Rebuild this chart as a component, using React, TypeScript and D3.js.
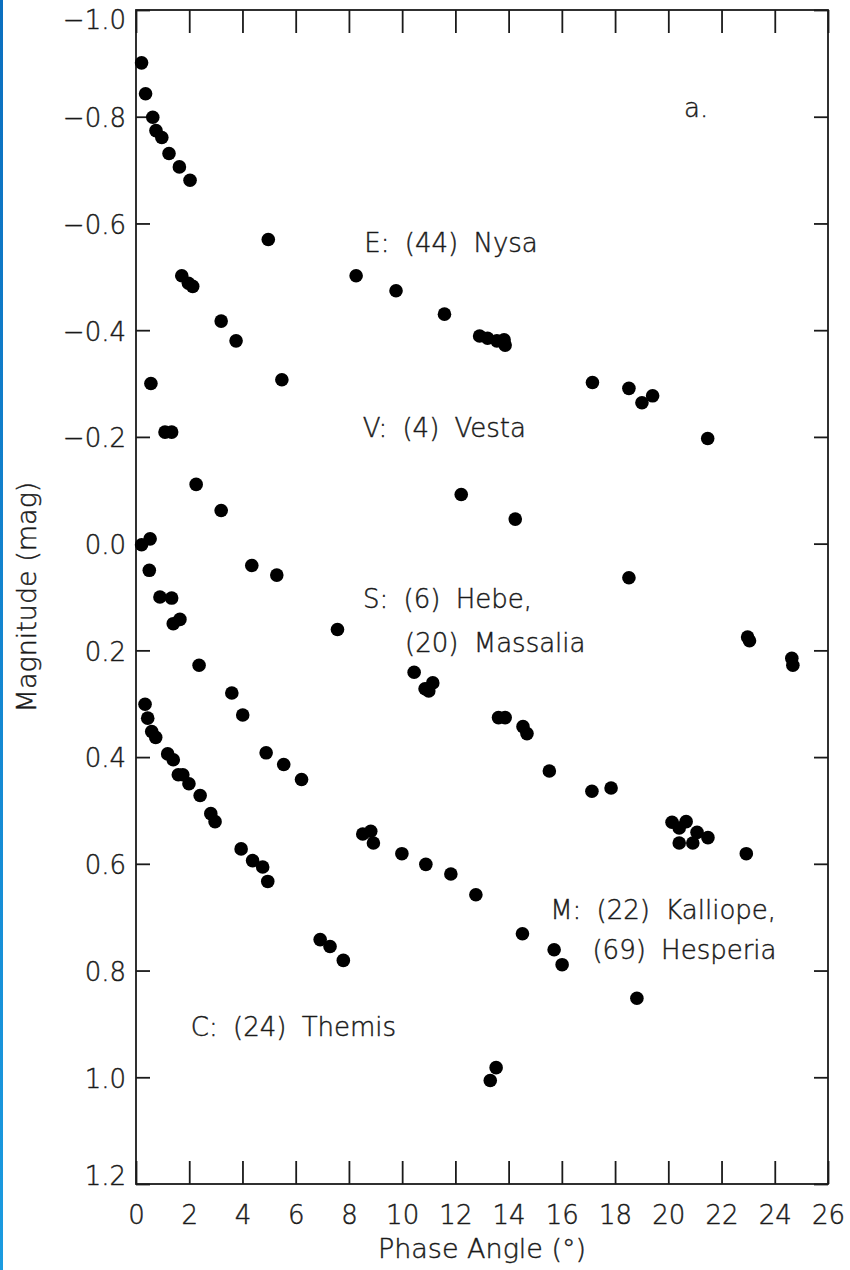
import React, { useRef, useEffect } from "react";
import * as d3 from "d3";

// phase angle (deg) and reduced magnitude
const nysaPhase = [0.21, 0.36, 0.63, 0.75, 0.97, 1.24, 1.63, 2.03, 4.97, 8.27, 9.77, 11.59, 12.91, 13.21, 13.56, 13.83, 13.87, 17.15, 18.52, 19.01, 19.41, 21.48];
const nysaMag = [-0.901, -0.843, -0.799, -0.774, -0.761, -0.731, -0.706, -0.681, -0.57, -0.502, -0.474, -0.43, -0.389, -0.385, -0.38, -0.382, -0.372, -0.302, -0.291, -0.264, -0.277, -0.197];

const vestaPhase = [1.72, 1.97, 2.13, 3.2, 3.76, 5.48, 12.22, 14.25, 18.52, 22.98, 23.05, 24.64, 24.68];
const vestaMag = [-0.502, -0.488, -0.482, -0.417, -0.38, -0.307, -0.092, -0.046, 0.064, 0.175, 0.182, 0.215, 0.228];

const hebePhase = [0.56, 1.09, 1.34, 2.26, 3.2, 4.35, 5.29, 7.57, 10.45, 10.86, 11.0, 11.15, 13.62, 13.87, 14.54, 14.69, 15.53, 17.13, 17.85, 20.14, 20.41, 20.67, 20.41, 20.92, 21.08, 21.49, 22.93];
const hebeMag = [-0.3, -0.209, -0.209, -0.111, -0.062, 0.041, 0.059, 0.161, 0.241, 0.272, 0.276, 0.261, 0.326, 0.326, 0.343, 0.356, 0.426, 0.464, 0.458, 0.522, 0.533, 0.521, 0.561, 0.561, 0.541, 0.551, 0.581];

const kalliopePhase = [0.21, 0.53, 0.5, 0.9, 1.34, 1.4, 1.65, 2.37, 3.6, 4.01, 4.89, 5.55, 6.22, 8.52, 8.82, 8.92, 9.99, 10.89, 11.83, 12.77, 14.52, 15.71, 16.01, 18.82];
const kalliopeMag = [0.002, -0.009, 0.05, 0.1, 0.102, 0.15, 0.142, 0.228, 0.28, 0.321, 0.392, 0.414, 0.442, 0.544, 0.539, 0.561, 0.581, 0.601, 0.619, 0.658, 0.731, 0.761, 0.789, 0.852];

const themisPhase = [0.34, 0.44, 0.59, 0.74, 1.19, 1.4, 1.59, 1.76, 1.99, 2.41, 2.81, 2.97, 3.95, 4.38, 4.76, 4.95, 6.92, 7.29, 7.79, 13.31, 13.53];
const themisMag = [0.301, 0.327, 0.352, 0.363, 0.394, 0.405, 0.433, 0.433, 0.45, 0.472, 0.506, 0.521, 0.572, 0.594, 0.606, 0.633, 0.742, 0.755, 0.781, 1.006, 0.982];

const xTicks = [0, 2, 4, 6, 8, 10, 12, 14, 16, 18, 20, 22, 24, 26];
const yTicks = [-1.0, -0.8, -0.6, -0.4, -0.2, 0.0, 0.2, 0.4, 0.6, 0.8, 1.0, 1.2];

const labelText = ["a.", "E: (44) Nysa", "V: (4) Vesta", "S: (6) Hebe,", "(20) Massalia", "M: (22) Kalliope,", "(69) Hesperia", "C: (24) Themis"];
const labelPhase = [20.59, 8.58, 8.52, 8.53, 10.11, 15.56, 17.15, 2.06];
const labelMag = [-0.799, -0.547, -0.199, 0.121, 0.203, 0.703, 0.778, 0.922];

const App = () => {
  const svgRef = useRef(null);

  useEffect(() => {
    const width = 850;
    const height = 1270;
    const margin = { top: 10, right: 22, bottom: 86, left: 136 };
    const font = "'DejaVu Sans', sans-serif";
    const ink = "#1a1a1a";

    const svg = d3.select(svgRef.current).attr("width", width).attr("height", height);
    svg.selectAll("*").remove();

    const x = d3.scaleLinear().domain([0, 26]).range([margin.left, width - margin.right]);
    const y = d3.scaleLinear().domain([-1.0, 1.2]).range([margin.top, height - margin.bottom]);

    // blue strip at the left edge of the page
    const grad = svg.append("defs").append("linearGradient")
      .attr("id", "edge").attr("x1", 0).attr("y1", 0).attr("x2", 0).attr("y2", 1);
    grad.append("stop").attr("offset", "0%").attr("stop-color", "#0b6fbf");
    grad.append("stop").attr("offset", "100%").attr("stop-color", "#1b9be0");
    svg.append("rect").attr("x", 0).attr("y", 0).attr("width", 3).attr("height", height).attr("fill", "url(#edge)");

    const textStyle = (t, size = 26) =>
      t.attr("font-family", font).attr("font-size", size).attr("font-weight", 300)
        .attr("fill", ink).attr("stroke", ink).attr("stroke-width", 0.45);

    const styleAxis = (g) => {
      g.select(".domain").remove();
      g.selectAll("line").attr("stroke", ink).attr("stroke-width", 1.8);
      g.selectAll("text").call(textStyle);
    };

    svg.append("g")
      .attr("transform", `translate(0,${y(1.2)})`)
      .call(d3.axisBottom(x).tickValues(xTicks).tickSize(-23).tickPadding(22).tickFormat(d3.format("d")))
      .call(styleAxis);

    svg.append("g")
      .attr("transform", `translate(0,${y(-1.0)})`)
      .call(d3.axisTop(x).tickValues(xTicks).tickSize(-23).tickFormat(() => ""))
      .call(styleAxis);

    const left = svg.append("g")
      .attr("transform", `translate(${x(0)},0)`)
      .call(d3.axisLeft(y).tickValues(yTicks).tickSize(-14).tickPadding(10).tickFormat(d3.format(".1f")))
      .call(styleAxis);
    // first label hangs below the top tick, last one sits on the bottom tick
    left.selectAll("text")
      .attr("dy", (d) => (d === yTicks[0] ? "0.73em" : d === yTicks[yTicks.length - 1] ? "0em" : "0.38em"));

    svg.append("g")
      .attr("transform", `translate(${x(26)},0)`)
      .call(d3.axisRight(y).tickValues(yTicks).tickSize(-14).tickFormat(() => ""))
      .call(styleAxis);

    svg.append("rect")
      .attr("x", x(0)).attr("y", y(-1.0))
      .attr("width", x(26) - x(0)).attr("height", y(1.2) - y(-1.0))
      .attr("fill", "none").attr("stroke", ink).attr("stroke-width", 1.8);

    // axis titles
    svg.append("text")
      .attr("x", (x(0) + x(26)) / 2).attr("y", 1258)
      .attr("text-anchor", "middle")
      .call(textStyle, 27)
      .text("Phase Angle (°)");

    svg.append("text")
      .attr("transform", `translate(36,${(y(-1.0) + y(1.2)) / 2}) rotate(-90)`)
      .attr("text-anchor", "middle")
      .call(textStyle, 27)
      .text("Magnitude (mag)");

    // points
    const series = [
      [nysaPhase, nysaMag],
      [vestaPhase, vestaMag],
      [hebePhase, hebeMag],
      [kalliopePhase, kalliopeMag],
      [themisPhase, themisMag],
    ];
    series.forEach(([ph, mg]) => {
      svg.append("g")
        .selectAll("circle")
        .data(ph.map((p, i) => [p, mg[i]]))
        .enter()
        .append("circle")
        .attr("cx", (d) => x(d[0]))
        .attr("cy", (d) => y(d[1]))
        .attr("r", 6.8)
        .attr("fill", "#000");
    });

    // class labels
    svg.append("g")
      .selectAll("text")
      .data(labelText)
      .enter()
      .append("text")
      .attr("x", (_, i) => x(labelPhase[i]))
      .attr("y", (_, i) => y(labelMag[i]))
      .call(textStyle)
      .attr("word-spacing", 7)
      .text((d) => d);
  }, []);

  return <svg ref={svgRef} style={{ position: "absolute", left: 0, top: 0 }}></svg>;
};

export default App;
